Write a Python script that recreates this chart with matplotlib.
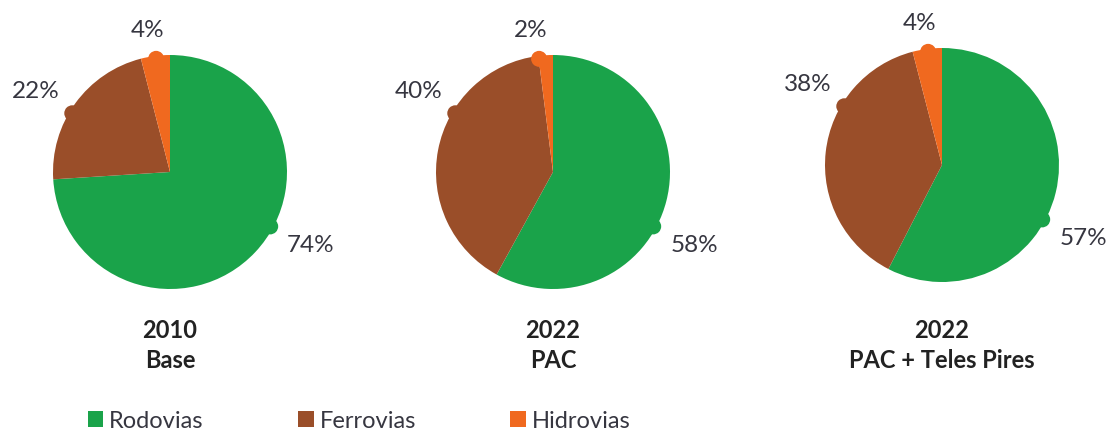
import numpy as np
import matplotlib
matplotlib.use('Agg')
import matplotlib.pyplot as plt
from matplotlib.patches import Circle, Patch

plt.rcParams['font.family'] = ['Lato', 'DejaVu Sans']

# participação de cada modal no transporte de carga (%)
modais = ['Rodovias', 'Ferrovias', 'Hidrovias']
cores = ['#1aa34a', '#9a4e29', '#f0691f']
anos = ['2010', '2022', '2022']
cenarios = ['Base', 'PAC', 'PAC + Teles Pires']
base_2010 = [74, 22, 4]
pac_2022 = [58, 40, 2]
teles_pires_2022 = [57, 38, 4]
series = [base_2010, pac_2022, teles_pires_2022]

W, H = 1120, 432
centros = [(170, 172), (553, 172), (942, 165)]
raio = 117
# direção e distância dos rótulos para cada modal (graus, px)
ang_rotulo = [-27.5, 149, 99]
dist_rotulo = [159, 157, 143]
ang_aba = [-28.5, 149, 97]
cor_texto = '#363640'

fig = plt.figure(figsize=(W / 100, H / 100), dpi=100)
ax = fig.add_axes([0, 0, 1, 1])

for (cx, cy), valores, ano, cen in zip(centros, series, anos, cenarios):
    c = (cx, H - cy)
    wedges, _ = ax.pie(valores, colors=cores, startangle=90, counterclock=False,
                       center=c, radius=raio, frame=True,
                       wedgeprops=dict(linewidth=0))
    for i, v in enumerate(valores):
        a = np.deg2rad(ang_aba[i])
        # pequena aba arredondada na borda, apontando para o rótulo
        ax.add_patch(Circle((c[0] + (raio - 3) * np.cos(a), c[1] + (raio - 3) * np.sin(a)),
                            8, color=cores[i], lw=0))
        t = np.deg2rad(ang_rotulo[i])
        ax.text(c[0] + dist_rotulo[i] * np.cos(t), c[1] + dist_rotulo[i] * np.sin(t),
                f'{v}%', ha='center', va='center', fontsize=17.5, color=cor_texto)
    ax.text(cx, H - 330, ano, ha='center', va='center', fontsize=17,
            fontweight='bold', color='#222222')
    ax.text(cx, H - 360, cen, ha='center', va='center', fontsize=17,
            fontweight='bold', color='#222222')

ax.set_xlim(0, W)
ax.set_ylim(0, H)
ax.set_aspect('equal')
ax.axis('off')

handles = [Patch(facecolor=cor, edgecolor='none', label=m) for m, cor in zip(modais, cores)]
fig.legend(handles=handles, loc='center left', bbox_to_anchor=(88 / W, (H - 421) / H),
           ncol=3, frameon=False, fontsize=17, handlelength=0.65, handleheight=0.65,
           handletextpad=0.25, columnspacing=4.0, borderpad=0, borderaxespad=0,
           labelcolor=cor_texto)

fig.savefig('out.png', dpi=100)
